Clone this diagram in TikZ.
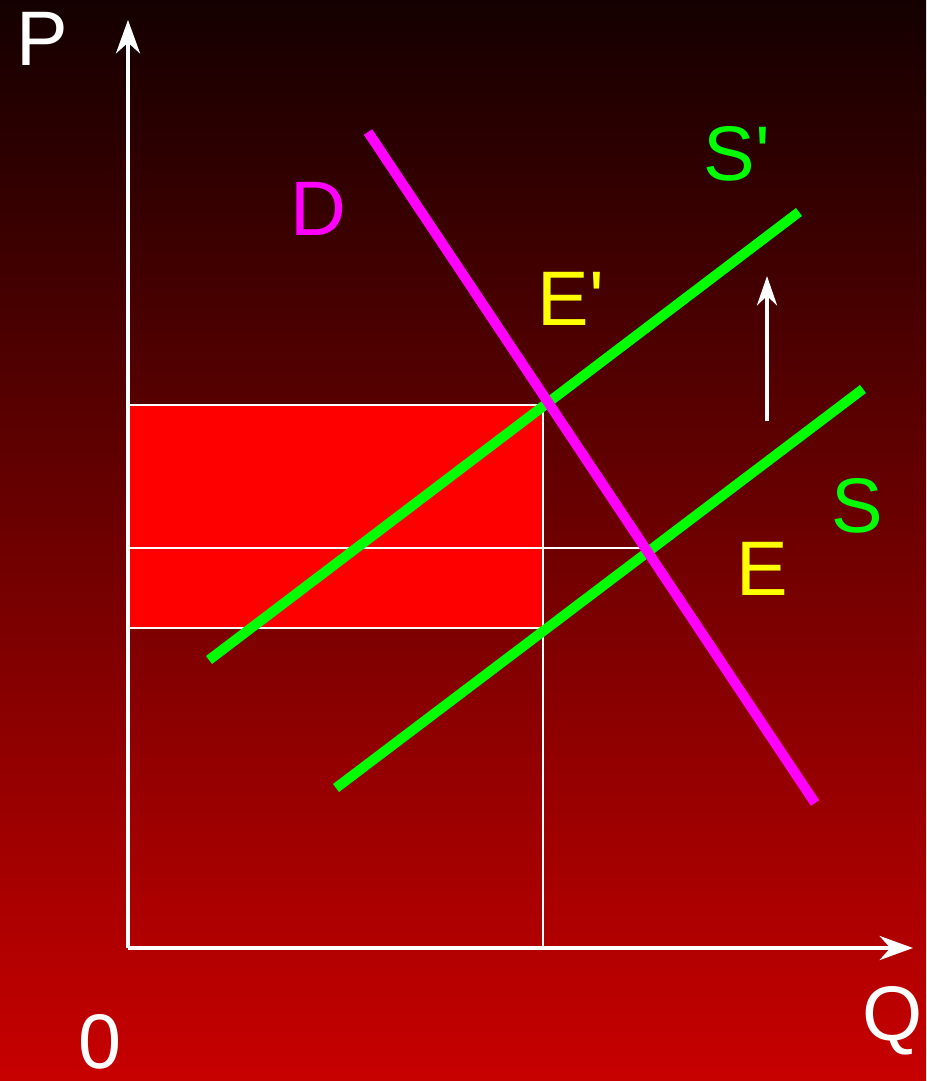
\documentclass[tikz,border=0pt]{standalone}
\usepackage{fontspec}
\setmainfont{Liberation Sans}
\usetikzlibrary{arrows.meta}
\definecolor{bgtop}{RGB}{20,0,0}
\definecolor{bgbot}{RGB}{200,0,0}
\definecolor{dmag}{RGB}{255,0,255}
\definecolor{sgreen}{RGB}{0,255,0}
\definecolor{eyel}{RGB}{255,255,0}
\definecolor{taxred}{RGB}{255,0,0}
\begin{document}
\begin{tikzpicture}[x=0.75pt,y=-0.75pt]
    \tikzset{pt/.style={coordinate},
      lab/.style={anchor=base, inner sep=0pt, font=\fontsize{58}{58}\selectfont},
      axis/.style={white, line width=3pt, -{Stealth[length=25pt,width=18pt,inset=8pt]}},
      grid/.style={white, line width=2pt},
      curve/.style={line width=7.5pt}};
%%
\useasboundingbox (0,0) rectangle (926,1081);
\shade [top color=bgtop, bottom color=bgbot] (0,0) rectangle (926,1081);
  \node (o) at (128,948) [pt] {};
  \node (py) at (128,20) [pt] {};
  \node (qx) at (913,948) [pt] {};
  \node (pt1) at (128,405) [pt] {};
  \node (pt2) at (128,548) [pt] {};
  \node (pt3) at (128,628) [pt] {};
  \node (ep) at (543,405) [pt] {};
  \node (e) at (655,548) [pt] {};
  \node (q1) at (543,948) [pt] {};
  \node (c3) at (543,628) [pt] {};
  \node (d1) at (368,132) [pt] {};
  \node (d2) at (815,803) [pt] {};
  \node (sp1) at (209,660) [pt] {};
  \node (sp2) at (799,212) [pt] {};
  \node (s1) at (336,788) [pt] {};
  \node (s2) at (863,389) [pt] {};
  \node (a1) at (767,421) [pt] {};
  \node (a2) at (767,276) [pt] {};

  % tax rectangle
  \fill [taxred] (pt1) rectangle (c3);
  \draw [grid] (pt1) -- (ep);
  \draw [grid] (pt2) -- (e);
  \draw [grid] (pt3) -- (c3);
  \draw [grid] (ep) -- (q1);

  \draw [axis] (o) -- (py);
  \draw [axis] (o) -- (qx);

  \draw [curve, sgreen] (sp1) -- (sp2);
  \draw [curve, sgreen] (s1) -- (s2);
  \draw [curve, dmag] (d1) -- (d2);
  \draw [white, line width=3pt, -{Stealth[length=22pt,width=15pt,inset=7pt]}] (a1) -- (a2);

  \node (P) at (42,65) [lab, white] {P};
  \node (Q) at (893,1040) [lab, white] {Q};
  \node (zero) at (100,1068) [lab, white] {0};
  \node (D) at (318,235) [lab, dmag] {D};
  \node (Sp) at (737,180) [lab, sgreen] {S\textquotesingle};
  \node (S) at (857,532) [lab, sgreen] {S};
  \node (Ep) at (571,325) [lab, eyel] {E\textquotesingle};
  \node (E) at (762,595) [lab, eyel] {E};
  %
\end{tikzpicture}
\end{document}
